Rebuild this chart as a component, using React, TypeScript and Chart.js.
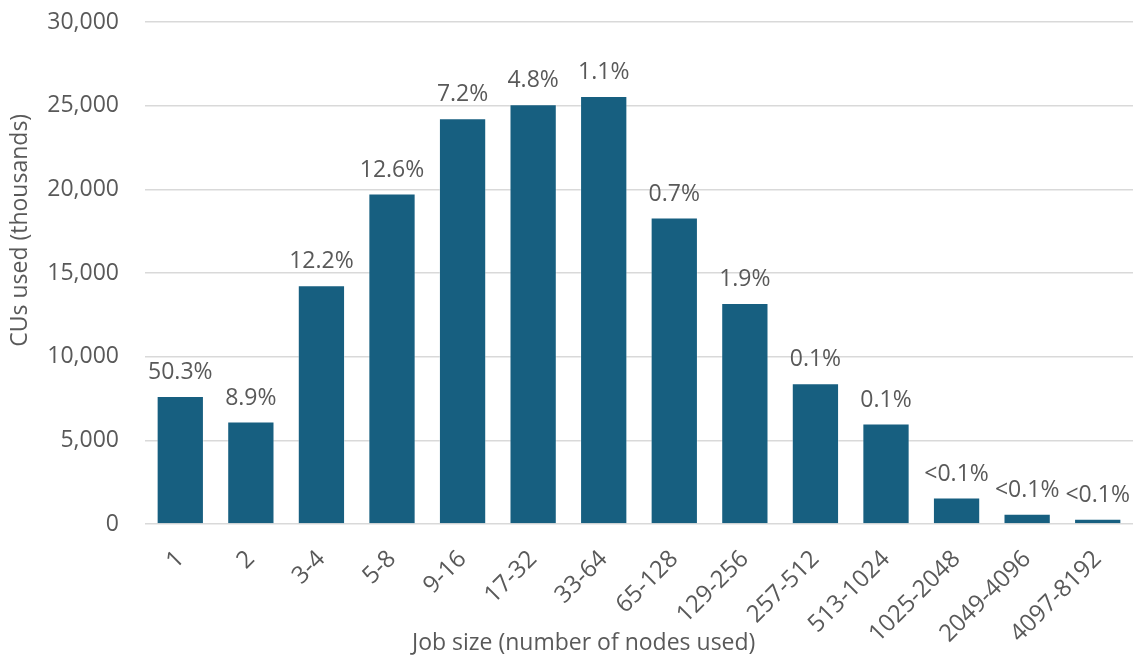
import React, { useEffect, useRef } from "react";
import { Chart, registerables } from "chart.js";

Chart.register(...registerables);

const categories = [
  "1", "2", "3-4", "5-8", "9-16", "17-32", "33-64", "65-128",
  "129-256", "257-512", "513-1024", "1025-2048", "2049-4096", "4097-8192",
];
const cusUsed = [
  7650, 6120, 14270, 19750, 24250, 25080, 25580, 18310,
  13210, 8410, 6000, 1580, 620, 320,
];
const shareLabels = [
  "50.3%", "8.9%", "12.2%", "12.6%", "7.2%", "4.8%", "1.1%", "0.7%",
  "1.9%", "0.1%", "0.1%", "<0.1%", "<0.1%", "<0.1%",
];
const yTitle = "CUs used (thousands)";
const xTitle = "Job size (number of nodes used)";

const TEXT = "#595959";
const MAIN_FONT = "'Open Sans', 'Liberation Sans', sans-serif";

const overlay = {
  id: "overlay",
  afterDatasetsDraw(chart: any) {
    const ctx = chart.ctx;
    const meta = chart.getDatasetMeta(0);
    ctx.save();
    ctx.fillStyle = TEXT;
    ctx.font = `23px ${MAIN_FONT}`;
    ctx.textAlign = "center";
    ctx.textBaseline = "bottom";
    meta.data.forEach((bar: any, i: number) => {
      ctx.fillText(shareLabels[i], bar.x, bar.y - 12);
    });
    ctx.restore();
  },
  afterDraw(chart: any) {
    const ctx = chart.ctx;
    const a = chart.chartArea;
    ctx.save();
    ctx.fillStyle = TEXT;
    ctx.textAlign = "center";
    ctx.textBaseline = "middle";
    ctx.font = `23px ${MAIN_FONT}`;
    ctx.fillText(xTitle, a.left + 0.444 * (a.right - a.left), chart.height - 13);
    ctx.translate(20, a.top + 0.415 * (a.bottom - a.top));
    ctx.rotate(-Math.PI / 2);
    ctx.font = `23px ${MAIN_FONT}`;
    ctx.fillText(yTitle, 0, 0);
    ctx.restore();
  },
};

export default function App() {
  const ref = useRef<HTMLCanvasElement | null>(null);
  useEffect(() => {
    if (!ref.current) return;
    const chart = new Chart(ref.current, {
      type: "bar",
      data: {
        labels: categories,
        datasets: [
          {
            data: cusUsed,
            backgroundColor: "#175f80",
            borderColor: "rgba(255,255,255,0.35)",
            borderWidth: 1,
            categoryPercentage: 1,
            barPercentage: 0.67,
          },
        ],
      },
      options: {
        animation: false,
        responsive: false,
        maintainAspectRatio: false,
        layout: { padding: { top: 22, right: 5, left: 0, bottom: 0 } },
        plugins: {
          legend: { display: false },
          tooltip: { enabled: false },
          title: { display: false },
        },
        scales: {
          x: {
            grid: { display: false, drawTicks: false },
            border: { display: false },
            afterFit: (s: any) => {
              s.height = 132;
              s.paddingLeft = 0;
              s.paddingRight = 0;
              s.paddingTop = 0;
              s.paddingBottom = 0;
            },
            ticks: {
              color: TEXT,
              font: { size: 24, family: MAIN_FONT },
              minRotation: 45,
              maxRotation: 45,
              padding: 21,
              autoSkip: false,
            },
          },
          y: {
            min: 0,
            max: 30000,
            afterFit: (s: any) => {
              s.width = 145;
              s.paddingTop = 0;
              s.paddingBottom = 0;
              s.paddingLeft = 0;
              s.paddingRight = 0;
            },
            grid: { color: "#d9d9d9", lineWidth: 1.5, drawTicks: false },
            border: { display: false },
            ticks: {
              stepSize: 5000,
              color: TEXT,
              font: { size: 23, family: MAIN_FONT },
              padding: 26,
              callback: (v: any) => Number(v).toLocaleString("en-US"),
            },
          },
        },
      },
      plugins: [overlay],
    });
    return () => chart.destroy();
  }, []);
  return (
    <div style={{ position: "fixed", left: 0, top: 0, width: 1138, height: 656, background: "#fff" }}>
      <canvas ref={ref} width={1138} height={656} style={{ width: 1138, height: 656 }} />
    </div>
  );
}
